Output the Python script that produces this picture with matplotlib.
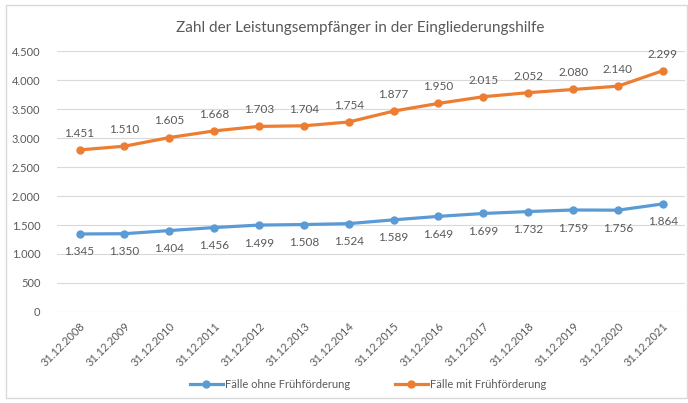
import matplotlib.pyplot as plt
from matplotlib.patches import Rectangle
import numpy as np

plt.rcParams['font.family'] = ['Lato', 'DejaVu Sans']

dates = ["31.12.2008", "31.12.2009", "31.12.2010", "31.12.2011", "31.12.2012",
         "31.12.2013", "31.12.2014", "31.12.2015", "31.12.2016", "31.12.2017",
         "31.12.2018", "31.12.2019", "31.12.2020", "31.12.2021"]
ohne = [1345, 1350, 1404, 1456, 1499, 1508, 1524, 1589, 1649, 1699, 1732, 1759, 1756, 1864]
mit = [1451, 1510, 1605, 1668, 1703, 1704, 1754, 1877, 1950, 2015, 2052, 2080, 2140, 2299]


def fmt(v):
    return f"{v:,}".replace(",", ".")


blue = "#5B9BD5"
orange = "#ED7D31"
grey = "#595959"

x = np.arange(len(dates))
ohne_arr = np.array(ohne)
# stacked line chart: second series sits on top of the first
stacked = ohne_arr + np.array(mit)

fig = plt.figure(figsize=(6.88, 4.03), dpi=100)
ax = fig.add_axes([0.083, 0.226, 0.913, 0.647])

ax.plot(x, ohne_arr, color=blue, lw=2.3, marker="o", ms=5, label="Fälle ohne Frühförderung", zorder=3)
ax.plot(x, stacked, color=orange, lw=2.3, marker="o", ms=5, label="Fälle mit Frühförderung", zorder=3)

for i in range(len(x)):
    ax.annotate(fmt(ohne[i]), (x[i], ohne_arr[i]), xytext=(0, -9), textcoords="offset points",
                ha="center", va="top", fontsize=8.5, color=grey)
    ax.annotate(fmt(mit[i]), (x[i], stacked[i]), xytext=(0, 8), textcoords="offset points",
                ha="center", va="bottom", fontsize=8.5, color=grey)

ax.set_xlim(-0.5, len(dates) - 0.5)
ax.set_ylim(0, 4500)
ax.set_yticks(np.arange(0, 4501, 500))
ax.set_yticklabels([fmt(v) for v in range(0, 4501, 500)])
ax.set_xticks(x)
ax.set_xticklabels(dates, rotation=45, ha="right", rotation_mode="anchor")
ax.tick_params(axis="both", length=0, labelsize=8, labelcolor=grey)
ax.tick_params(axis="x", pad=6)
ax.tick_params(axis="y", pad=12)
ax.grid(axis="y", color="#D9D9D9", lw=0.8)
ax.set_axisbelow(True)
for s in ax.spines.values():
    s.set_visible(False)

fig.text(0.523, 0.93, "Zahl der Leistungsempfänger in der Eingliederungshilfe",
         ha="center", va="center", fontsize=11, color=grey)

fig.legend(*ax.get_legend_handles_labels(), loc="center", bbox_to_anchor=(0.535, 0.045),
           ncol=2, frameon=False, fontsize=8, labelcolor=grey, handlelength=3,
           columnspacing=4, handletextpad=0.2)

fig.patches.append(Rectangle((0.008, 0.012), 0.99, 0.975, transform=fig.transFigure,
                             fill=False, edgecolor="#D9D9D9", lw=1))

fig.savefig("out.png", dpi=100)
